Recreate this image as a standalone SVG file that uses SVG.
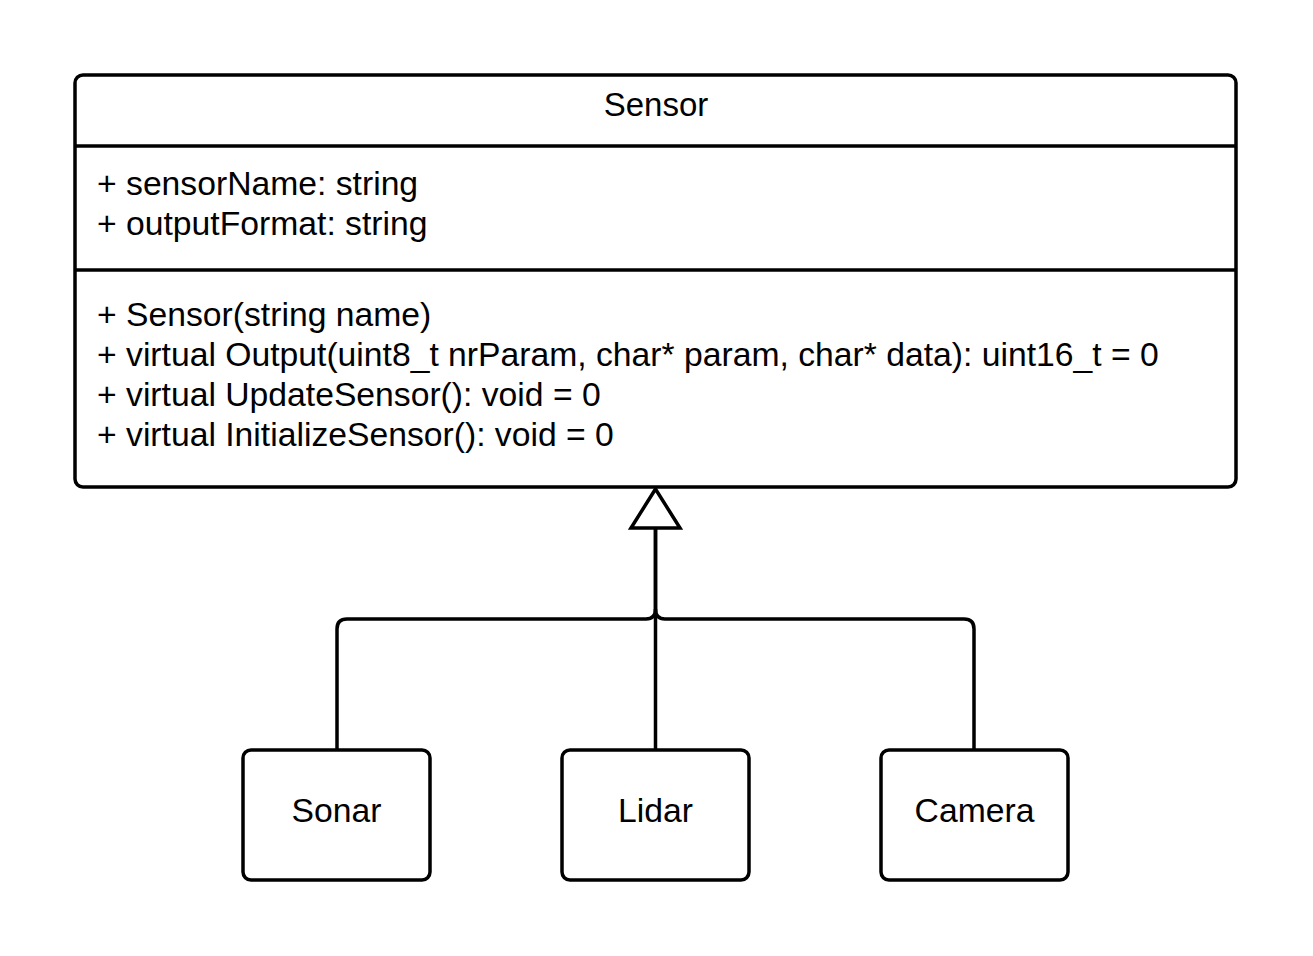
<svg xmlns="http://www.w3.org/2000/svg" width="1313" height="956" viewBox="0 0 1313 956">
<style>
.box{fill:#fff;stroke:#000;stroke-width:3.5}
.ln{fill:none;stroke:#000;stroke-width:3.5}
text{font-family:"Liberation Sans",Arial,sans-serif;font-size:33.7px;fill:#000}
.c{text-anchor:middle}
.t{font-size:33px}
</style>
<rect width="1313" height="956" fill="#fff"/>
<g id="connectors">
<path class="ln" d="M337,750 V629 Q337,619 347,619 H646 Q655.5,619 655.5,609 V526"/>
<path class="ln" d="M974,750 V629 Q974,619 964,619 H665 Q655.5,619 655.5,609"/>
<path class="ln" d="M655.5,750 V526"/>
<polygon class="box" points="655.5,489 631,528 680,528"/>
</g>
<g id="sensor">
<rect class="box" x="75" y="75" width="1161" height="412" rx="8"/>
<line class="ln" x1="75" y1="146" x2="1236" y2="146"/>
<line class="ln" x1="75" y1="270" x2="1236" y2="270"/>
<text class="c t" x="656" y="116">Sensor</text>
<text x="97" y="195">+ sensorName: string</text>
<text x="97" y="235">+ outputFormat: string</text>
<text x="97" y="326">+ Sensor(string name)</text>
<text x="97" y="366">+ virtual Output(uint8_t nrParam, char* param, char* data): uint16_t = 0</text>
<text x="97" y="406">+ virtual UpdateSensor(): void = 0</text>
<text x="97" y="446">+ virtual InitializeSensor(): void = 0</text>
</g>
<g id="sonar">
<rect class="box" x="243" y="750" width="187" height="130" rx="8"/>
<text class="c" x="336.5" y="822">Sonar</text>
</g>
<g id="lidar">
<rect class="box" x="562" y="750" width="187" height="130" rx="8"/>
<text class="c" x="655.5" y="822">Lidar</text>
</g>
<g id="camera">
<rect class="box" x="881" y="750" width="187" height="130" rx="8"/>
<text class="c" x="974.5" y="822">Camera</text>
</g>
</svg>
